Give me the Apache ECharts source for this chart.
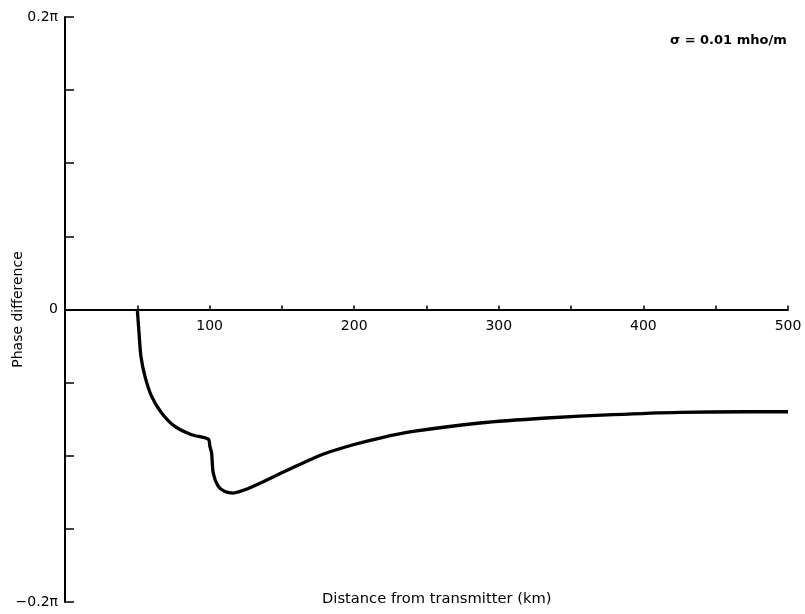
<!DOCTYPE html>
<html>
<head>
<meta charset="utf-8">
<title>Phase difference vs distance</title>
<script src="https://cdn.jsdelivr.net/npm/echarts@6/dist/echarts.min.js"></script>
<style>
  html, body { margin: 0; padding: 0; background: #ffffff; }
  #chart { width: 805px; height: 614px; }
</style>
</head>
<body>
<div id="chart"></div>
<script>
// Distance from transmitter (km)
const distanceKm = [50, 51.2, 52.5, 55.3, 59.9, 66.8, 76.0, 87.6, 99.1, 100.2, 101.4, 102.5,
  106.0, 110.6, 116.3, 124.4, 136.0, 154.4, 177.5, 199.3, 217.8, 240.8, 286.9, 333.0,
  379.0, 425.1, 471.2, 500];
// Phase difference, in units of pi radians
const phasePi = [0, -0.0160, -0.0320, -0.0457, -0.0594, -0.0707, -0.0799, -0.0856, -0.0886,
  -0.0936, -0.0982, -0.1118, -0.1210, -0.1245, -0.1255, -0.1233, -0.1183, -0.1096, -0.0993,
  -0.0925, -0.0879, -0.0834, -0.0776, -0.0742, -0.0719, -0.0703, -0.0699, -0.0699];
// Labelled ticks
const xTickLabels = [100, 200, 300, 400, 500];
const yTickLabels = { '0.2': '0.2\u03c0', '0': '0', '-0.2': '\u22120.2\u03c0' };
const conductivityNote = '\u03c3 = 0.01 mho/m';

const points = distanceKm.map((d, i) => [d, phasePi[i]]);
const font = '"DejaVu Sans", "Liberation Sans", sans-serif';

const W = 805, H = 614;
const gridTop = 17, gridBottom = 12;
// the phase range is symmetric, so zero sits halfway up the plot area
const zeroOffset = -(H - gridTop - gridBottom) / 2;

const chart = echarts.init(document.getElementById('chart'), null, { renderer: 'canvas' });
chart.setOption({
  backgroundColor: '#ffffff',
  animation: false,
  grid: {
    left: 65, right: 17, top: gridTop, bottom: gridBottom,
    containLabel: false, outerBoundsMode: 'none'
  },
  xAxis: {
    type: 'value',
    min: 0,
    max: 500,
    interval: 50,
    offset: zeroOffset,
    axisLine: { onZero: false, lineStyle: { color: '#000', width: 2 } },
    axisTick: { show: true, inside: true, length: 4, lineStyle: { color: '#000', width: 1.5 } },
    splitLine: { show: false },
    axisLabel: {
      margin: 10,
      color: '#000',
      fontFamily: font,
      fontSize: 14,
      formatter: v => (xTickLabels.indexOf(v) >= 0 ? String(v) : '')
    }
  },
  yAxis: {
    type: 'value',
    min: -0.2,
    max: 0.2,
    interval: 0.05,
    name: 'Phase difference',
    nameLocation: 'middle',
    nameRotate: 90,
    nameGap: 40,
    nameMoveOverlap: false,
    nameTextStyle: { color: '#000', fontFamily: font, fontSize: 14 },
    axisLine: { show: true, lineStyle: { color: '#000', width: 2 } },
    axisTick: { show: true, inside: true, length: 9, lineStyle: { color: '#000', width: 1.5 } },
    splitLine: { show: false },
    axisLabel: {
      margin: 7,
      color: '#000',
      fontFamily: font,
      fontSize: 14,
      formatter: v => {
        const key = String(Math.round(v * 100) / 100);
        return yTickLabels[key] !== undefined ? yTickLabels[key] : '';
      }
    }
  },
  series: [{
    type: 'line',
    data: points,
    showSymbol: false,
    smooth: 0.25,
    lineStyle: { color: '#000', width: 3.3 },
    z: 3
  }],
  graphic: [
    {
      type: 'text',
      left: 322,
      top: 592,
      style: { text: 'Distance from transmitter (km)', fill: '#000', font: '14.7px ' + font }
    },
    {
      type: 'text',
      left: 670,
      top: 34,
      style: { text: conductivityNote, fill: '#000', font: 'bold 13px ' + font }
    }
  ]
});
</script>
</body>
</html>
